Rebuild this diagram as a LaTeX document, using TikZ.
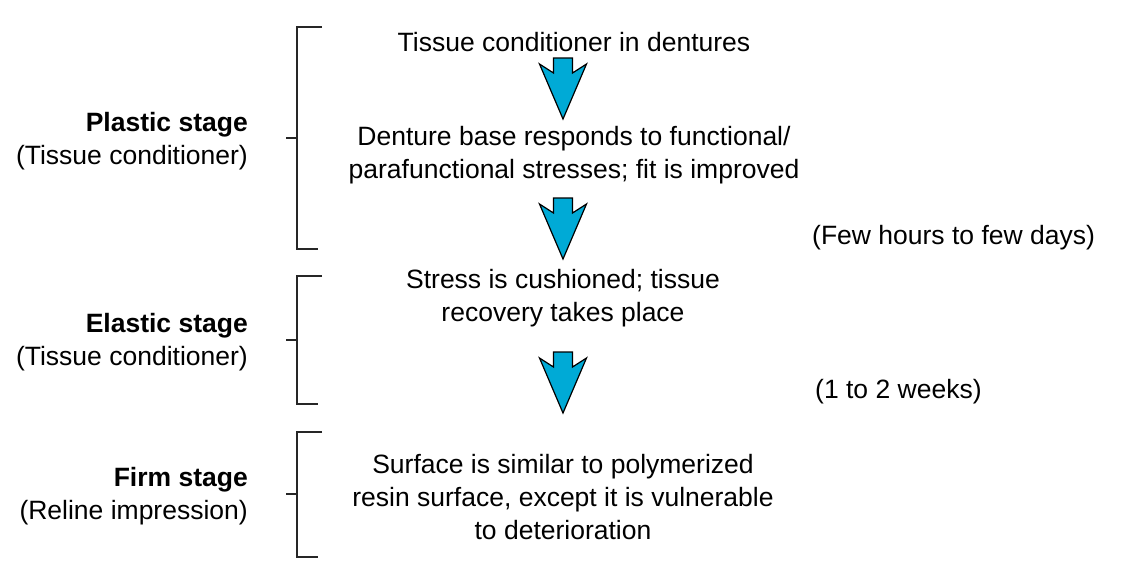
\documentclass[tikz,border=0pt]{standalone}
\usepackage{fontspec}
\setmainfont{Liberation Sans}
\usetikzlibrary{positioning, calc}
\definecolor{arrowblue}{RGB}{0,170,214}
\tikzset{
  stepnode/.style={
    align=center, inner sep=0pt,
    font=\fontsize{26.5}{33}\selectfont
  },
  stagenode/.style={stepnode, anchor=east, align=right},
  notenode/.style={stepnode, anchor=west},
  bracketline/.style={line width=1.6pt, black!85},
  flowarrow/.pic={
    \draw[line width=1.2pt, fill=arrowblue, line join=miter]
      (-9.5,0) -- (9.5,0) -- (9.5,15) -- (23.5,6) -- (0,61)
      -- (-23.5,6) -- (-9.5,15) -- cycle;
  }
}
\begin{document}
\begin{tikzpicture}[x=1pt, y=-1pt]
  \useasboundingbox (0,0) rectangle (1146,587);

  % Steps
  \node[stepnode] (conditioner) at (574,42) {Tissue conditioner in dentures};
  \node[stepnode] (denture) at (574,155)
    {Denture base responds to functional/\\parafunctional stresses; fit is improved};
  \node[stepnode] (stress) at (563,298)
    {Stress is cushioned; tissue\\recovery takes place};
  \node[stepnode] (surface) at (563,497)
    {Surface is similar to polymerized\\resin surface, except it is vulnerable\\to deterioration};

  % Arrows between steps
  \pic at (563,58) {flowarrow};
  \pic at (563,198) {flowarrow};
  \pic at (563,352) {flowarrow};

  % Stage labels
  \node[stagenode] (plastic) at (248,141)
    {\textbf{Plastic stage}\\(Tissue conditioner)};
  \node[stagenode] (elastic) at (248,342)
    {\textbf{Elastic stage}\\(Tissue conditioner)};
  \node[stagenode] (firm) at (248,496)
    {\textbf{Firm stage}\\(Reline impression)};

  % Durations
  \node[notenode] (hours) at (812,238) {(Few hours to few days)};
  \node[notenode] (weeks) at (815,392) {(1 to 2 weeks)};

  % Brackets
  \draw[bracketline] (322,27) -- (297,27) -- (297,249) -- (318,249);
  \draw[bracketline] (286,138) -- (297,138);
  \draw[bracketline] (322,276) -- (297,276) -- (297,404) -- (318,404);
  \draw[bracketline] (286,340) -- (297,340);
  \draw[bracketline] (322,432) -- (297,432) -- (297,557) -- (318,557);
  \draw[bracketline] (286,494) -- (297,494);

\end{tikzpicture}
\end{document}
